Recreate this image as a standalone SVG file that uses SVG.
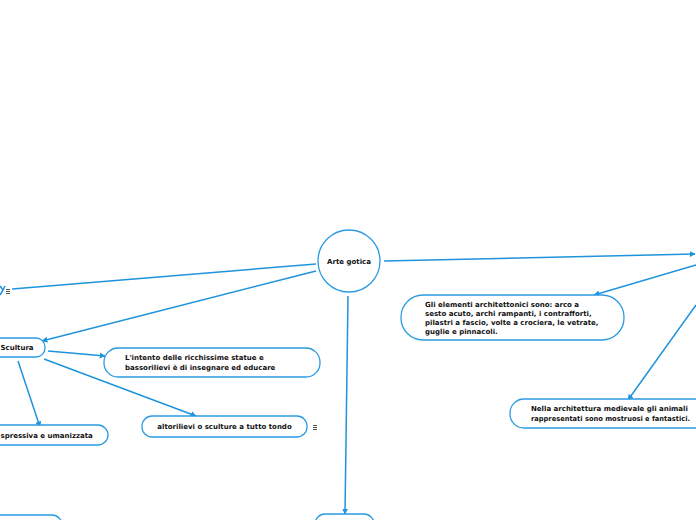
<svg xmlns="http://www.w3.org/2000/svg" width="696" height="520" viewBox="0 0 696 520">
<style>
.node{fill:#fff;stroke:#2a9be3;stroke-width:1.3}
.t{font-family:"DejaVu Sans",Verdana,sans-serif;font-weight:bold;font-size:7px;fill:#111}
.c{fill:none;stroke:#1f93dc;stroke-width:1.5}
.ic{fill:none;stroke:#555;stroke-width:1}
</style>
<defs>
<marker id="ah" viewBox="0 0 10 10" refX="9" refY="5" markerWidth="6" markerHeight="6" orient="auto" markerUnits="userSpaceOnUse">
<path d="M0,0 L10,5 L0,10 z" fill="#1f93dc"/>
</marker>
</defs>
<rect width="696" height="520" fill="#fff"/>
<g id="connectors">
<line class="c" x1="316" y1="264" x2="12" y2="289"/>
<path class="c" d="M0,286 L3,290 L0,295 M3,290 L5,286"/>
<line class="c" x1="316" y1="271" x2="42" y2="341" marker-end="url(#ah)"/>
<line class="c" x1="48" y1="351" x2="105" y2="356" marker-end="url(#ah)"/>
<line class="c" x1="44" y1="359" x2="196" y2="416" marker-end="url(#ah)"/>
<line class="c" x1="18" y1="361" x2="40" y2="427" marker-end="url(#ah)"/>
<line class="c" x1="348" y1="296" x2="345" y2="514" marker-end="url(#ah)"/>
<line class="c" x1="384" y1="261" x2="695" y2="254" marker-end="url(#ah)"/>
<line class="c" x1="696" y1="265" x2="594" y2="295" marker-end="url(#ah)"/>
<line class="c" x1="696" y1="305" x2="628" y2="400" marker-end="url(#ah)"/>
</g>
<g id="n-arte">
<circle class="node" cx="349" cy="261" r="31"/>
<text class="t" x="349" y="263.5" text-anchor="middle">Arte gotica</text>
</g>
<g id="n-left">
<path class="ic" d="M6,289.5h4M6,291.5h4M6,293.5h4"/>
</g>
<g id="n-scultura">
<rect class="node" x="-20" y="338" width="65" height="19" rx="9"/>
<text class="t" x="0.5" y="350">Scultura</text>
</g>
<g id="n-intento">
<rect class="node" x="104" y="348" width="216" height="29" rx="14"/>
<text class="t" x="125" y="360">L'intento delle ricchissime statue e</text>
<text class="t" x="125" y="370">bassorilievi è di insegnare ed educare</text>
</g>
<g id="n-altorilievi">
<rect class="node" x="142" y="416" width="165" height="21" rx="10"/>
<text class="t" x="224.5" y="429" text-anchor="middle">altorilievi o sculture a tutto tondo</text>
<path class="ic" d="M313,425.5h4M313,427.5h4M313,429.5h4"/>
</g>
<g id="n-espressiva">
<rect class="node" x="-30" y="425" width="138" height="20" rx="10"/>
<text class="t" x="0.5" y="437.5">spressiva e umanizzata</text>
</g>
<g id="n-bottomleft">
<rect class="node" x="-30" y="515" width="92" height="20" rx="10"/>
</g>
<g id="n-bottom">
<rect class="node" x="315" y="514" width="59" height="20" rx="10"/>
</g>
<g id="n-elementi">
<rect class="node" x="401" y="295" width="223" height="45" rx="22"/>
<text class="t" x="425" y="307">Gli elementi architettonici sono: arco a</text>
<text class="t" x="425" y="316">sesto acuto, archi rampanti, i contrafforti,</text>
<text class="t" x="425" y="325">pilastri a fascio, volte a crociera, le vetrate,</text>
<text class="t" x="425" y="334">guglie e pinnacoli.</text>
</g>
<g id="n-animali">
<rect class="node" x="510" y="399" width="200" height="29" rx="14"/>
<text class="t" x="531" y="411">Nella architettura medievale gli animali</text>
<text class="t" x="531" y="421" textLength="159" lengthAdjust="spacingAndGlyphs">rappresentati sono mostruosi e fantastici.</text>
</g>
</svg>
